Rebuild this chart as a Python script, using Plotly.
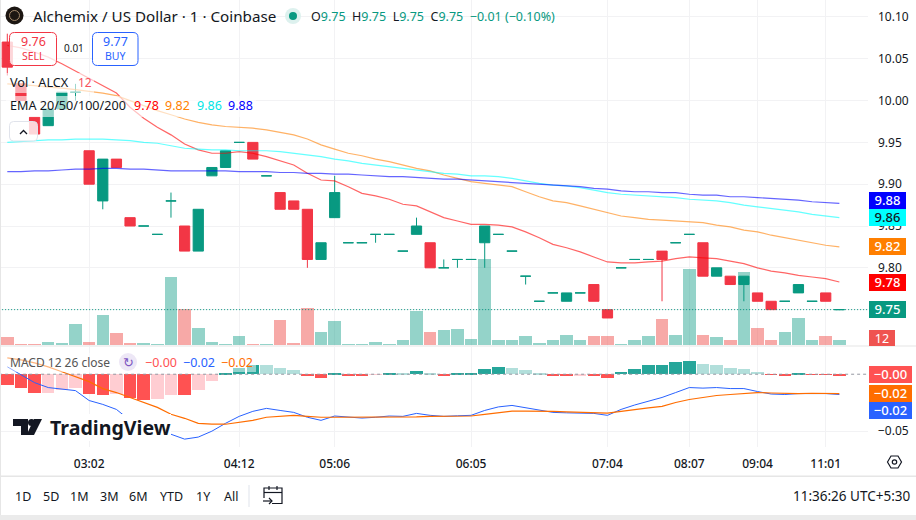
import plotly.graph_objects as go

W, H = 916, 520
PANE_RIGHT = 868
FONT = "Noto Sans"

# --- 1. Data ---
tick_idx = [6, 17, 24, 34, 44, 50, 55, 60]
tick_labels = ["03:02", "04:12", "05:06", "06:05", "07:04", "08:07", "09:04", "11:01"]

opens = [10.07, 10.02, 9.98, 9.97, 9.99, 10.01, 9.94, 9.88, 9.93, 9.86, 9.85, 9.84, 9.88, 9.85, 9.82, 9.91,
         9.92, 9.95, 9.95, 9.91, 9.89, 9.88, 9.87, 9.81, 9.86, 9.83, 9.83, 9.84, 9.84, 9.82, 9.84, 9.83,
         9.80, 9.81, 9.81, 9.83, 9.84, 9.82, 9.79, 9.76, 9.77, 9.76, 9.77, 9.78, 9.75, 9.80, 9.81, 9.81,
         9.82, 9.83, 9.84, 9.83, 9.79, 9.79, 9.78, 9.77, 9.76, 9.76, 9.77, 9.76, 9.77, 9.75]
highs = [10.08, 10.02, 9.98, 9.99, 10.01, 10.02, 9.94, 9.93, 9.93, 9.86, 9.85, 9.84, 9.89, 9.85, 9.87, 9.92,
         9.94, 9.95, 9.95, 9.91, 9.89, 9.88, 9.87, 9.83, 9.91, 9.83, 9.83, 9.84, 9.84, 9.82, 9.86, 9.83,
         9.81, 9.81, 9.81, 9.85, 9.84, 9.82, 9.79, 9.76, 9.77, 9.77, 9.77, 9.78, 9.75, 9.80, 9.81, 9.81,
         9.82, 9.83, 9.84, 9.83, 9.80, 9.79, 9.79, 9.77, 9.76, 9.76, 9.78, 9.76, 9.77, 9.75]
lows = [10.03, 10.00, 9.96, 9.97, 9.99, 10.00, 9.90, 9.87, 9.92, 9.85, 9.85, 9.84, 9.86, 9.82, 9.82, 9.91,
        9.92, 9.95, 9.93, 9.91, 9.87, 9.87, 9.80, 9.81, 9.86, 9.83, 9.83, 9.83, 9.84, 9.82, 9.84, 9.80,
        9.80, 9.80, 9.81, 9.80, 9.84, 9.82, 9.78, 9.76, 9.77, 9.76, 9.77, 9.76, 9.74, 9.80, 9.81, 9.81,
        9.76, 9.83, 9.84, 9.79, 9.79, 9.78, 9.76, 9.76, 9.75, 9.76, 9.77, 9.76, 9.76, 9.75]
closes = [10.04, 10.00, 9.96, 9.99, 10.01, 10.01, 9.90, 9.93, 9.92, 9.85, 9.85, 9.84, 9.88, 9.82, 9.87, 9.92,
          9.94, 9.95, 9.93, 9.91, 9.87, 9.87, 9.81, 9.83, 9.89, 9.83, 9.83, 9.84, 9.84, 9.82, 9.85, 9.80,
          9.80, 9.81, 9.81, 9.85, 9.84, 9.82, 9.79, 9.76, 9.77, 9.77, 9.77, 9.76, 9.74, 9.80, 9.81, 9.81,
          9.81, 9.83, 9.84, 9.79, 9.80, 9.78, 9.79, 9.76, 9.75, 9.76, 9.78, 9.76, 9.76, 9.75]

volumes = [19, 2, 2, 7, 5, 50, 7, 72, 29, 5, 5, 2, 163, 86, 41, 7, 2, 22, 2, 2, 60, 5, 89, 31,
           58, 2, 2, 7, 2, 12, 82, 31, 36, 38, 14, 206, 12, 12, 22, 5, 12, 24, 12, 22, 22, 2,
           12, 22, 62, 24, 182, 24, 19, 12, 175, 41, 12, 31, 65, 12, 22, 12]

ema20 = [10.066, 10.063, 10.058, 10.052, 10.044, 10.035, 10.027, 10.017, 10.009, 9.992, 9.979, 9.968, 9.959,
         9.948, 9.941, 9.937, 9.937, 9.939, 9.937, 9.933, 9.928, 9.923, 9.913, 9.905, 9.904, 9.897, 9.889,
         9.886, 9.882, 9.876, 9.874, 9.867, 9.860, 9.856, 9.852, 9.852, 9.851, 9.849, 9.843, 9.836, 9.828,
         9.824, 9.819, 9.813, 9.807, 9.806, 9.806, 9.807, 9.808, 9.811, 9.813, 9.812, 9.811, 9.808, 9.805,
         9.800, 9.796, 9.794, 9.791, 9.789, 9.787, 9.783]
ema50 = [10.020, 10.019, 10.018, 10.016, 10.015, 10.013, 10.011, 10.009, 10.006, 10.000, 9.994, 9.988, 9.983,
         9.978, 9.974, 9.971, 9.969, 9.968, 9.967, 9.965, 9.962, 9.959, 9.954, 9.947, 9.942, 9.937, 9.934,
         9.930, 9.927, 9.923, 9.919, 9.916, 9.911, 9.907, 9.903, 9.901, 9.899, 9.897, 9.891, 9.885, 9.880,
         9.878, 9.874, 9.870, 9.866, 9.862, 9.860, 9.858, 9.857, 9.856, 9.855, 9.854, 9.851, 9.849, 9.845,
         9.843, 9.839, 9.836, 9.833, 9.830, 9.827, 9.825]
ema100 = [9.950, 9.951, 9.952, 9.953, 9.953, 9.954, 9.954, 9.954, 9.953, 9.952, 9.950, 9.949, 9.946, 9.943,
          9.942, 9.941, 9.941, 9.940, 9.940, 9.940, 9.939, 9.937, 9.935, 9.933, 9.930, 9.928, 9.925, 9.923,
          9.921, 9.919, 9.917, 9.915, 9.913, 9.912, 9.910, 9.910, 9.909, 9.907, 9.904, 9.901, 9.899, 9.898,
          9.896, 9.893, 9.890, 9.888, 9.887, 9.886, 9.885, 9.884, 9.882, 9.881, 9.880, 9.878, 9.875, 9.873,
          9.871, 9.869, 9.867, 9.864, 9.862, 9.860]
ema200 = [9.915, 9.915, 9.916, 9.916, 9.917, 9.918, 9.918, 9.919, 9.919, 9.918, 9.918, 9.917, 9.916, 9.916,
          9.916, 9.916, 9.916, 9.915, 9.915, 9.915, 9.914, 9.914, 9.913, 9.913, 9.912, 9.912, 9.911, 9.910,
          9.909, 9.909, 9.908, 9.907, 9.906, 9.906, 9.905, 9.904, 9.903, 9.902, 9.901, 9.900, 9.899, 9.898,
          9.897, 9.895, 9.894, 9.892, 9.891, 9.891, 9.890, 9.890, 9.888, 9.887, 9.887, 9.885, 9.885, 9.884,
          9.883, 9.882, 9.881, 9.879, 9.878, 9.877]

macd_hist = [-.0093, -.0119, -.0162, -.0162, -.0136, -.0119, -.0171, -.0180, -.0171, -.0206, -.0223, -.0215,
             -.0180, -.0180, -.0136, -.0058, .0012, .0055, .0081, .0081, .0055, .0038, -.0012, -.0032, .0012,
             -.0009, -.0015, -.0006, .0012, .0006, .0029, .0012, -.0009, .0003, .0009, .0046, .0064, .0055,
             .0038, .0003, -.0012, -.0012, -.0012, -.0012, -.0032, .0020, .0046, .0078, .0081, .0110, .0119,
             .0090, .0081, .0055, .0046, .0020, -.0006, -.0009, .0003, -.0006, -.0006, -.0012]
# 1 = strong colour, 0 = faded colour
hist_strong = [1, 1, 1, 0, 0, 0, 1, 1, 0, 1, 1, 0, 0, 1, 0, 0, 1, 1, 1, 0, 0, 0, 1, 1, 1, 1, 1, 0, 1, 0, 1,
               0, 1, 1, 1, 1, 1, 0, 0, 0, 1, 1, 0, 1, 1, 1, 1, 1, 1, 1, 1, 0, 0, 0, 0, 0, 1, 1, 1, 1, 1, 1]
macd_line = [.0065, -.0004, -.0074, -.0117, -.0131, -.0144, -.0231, -.0265, -.0309, -.0405, -.0448, -.0492,
             -.0527, -.0570, -.0552, -.0500, -.0431, -.0370, -.0326, -.0300, -.0318, -.0335, -.0378, -.0405,
             -.0367, -.0374, -.0385, -.0378, -.0367, -.0370, -.0344, -.0361, -.0370, -.0365, -.0361, -.0318,
             -.0287, -.0274, -.0296, -.0318, -.0335, -.0339, -.0344, -.0344, -.0361, -.0309, -.0270, -.0239,
             -.0204, -.0161, -.0117, -.0122, -.0117, -.0126, -.0126, -.0152, -.0174, -.0178, -.0170, -.0170,
             -.0170, -.0178]
signal_line = [.0144, .0126, .0100, .0065, .0022, -.0022, -.0065, -.0126, -.0161, -.0204, -.0248, -.0291,
               -.0352, -.0387, -.0431, -.0439, -.0439, -.0422, -.0405, -.0378, -.0370, -.0361, -.0370, -.0378,
               -.0378, -.0378, -.0378, -.0378, -.0376, -.0376, -.0374, -.0370, -.0370, -.0370, -.0367, -.0352,
               -.0335, -.0324, -.0324, -.0324, -.0326, -.0331, -.0335, -.0335, -.0341, -.0326, -.0309, -.0296,
               -.0283, -.0248, -.0222, -.0204, -.0187, -.0178, -.0170, -.0161, -.0165, -.0170, -.0170, -.0167,
               -.0167, -.0170]

price_ticks = [9.75, 9.80, 9.85, 9.90, 9.95, 10.00, 10.05, 10.10]
price_tick_labels = ["", "9.80", "9.85", "9.90", "9.95", "10.00", "10.05", "10.10"]
macd_ticks = [-0.05]
macd_tick_labels = ["−0.05"]
last_price = 9.75

# right-hand value tags: label, axis position, fill, text colour
price_tags = [("9.88", 9.8805, "#0000ff", "white"), ("9.86", 9.860, "#00ffff", "#131722"),
              ("9.82", 9.825, "#ff7f00", "white"), ("9.78", 9.782, "#ff0000", "white"),
              ("9.75", 9.750, "#089981", "white")]
macd_tags = [("−0.00", -0.0006, "#ff5252"), ("−0.02", -0.0172, "#ff6d00"), ("−0.02", -0.0322, "#2962ff")]
range_buttons = [("1D", 23), ("5D", 51), ("1M", 79.5), ("3M", 109), ("6M", 138), ("YTD", 171), ("1Y", 203), ("All", 231)]

GREEN, RED = "#089981", "#f23645"
x_vals = list(range(len(opens)))


# --- 2. Pixel helpers for the chart furniture ---
def px(x):
    return x / W


def py(y):
    return 1 - y / H


def note(x, y, text, size=12, color="#131722", anchor="left", bg=None, width=None, height=None):
    return dict(xref="paper", yref="paper", x=px(x), y=py(y), text=text, showarrow=False, xanchor=anchor,
                yanchor="middle", font=dict(family=FONT, size=size, color=color), bgcolor=bg, borderpad=0,
                borderwidth=0, width=width, height=height, align="center" if width else None)


def round_rect(x0, y0, x1, y1, r, fill, line=None, width=1):
    p = (f"M {px(x0 + r)} {py(y0)} L {px(x1 - r)} {py(y0)} Q {px(x1)} {py(y0)} {px(x1)} {py(y0 + r)} "
         f"L {px(x1)} {py(y1 - r)} Q {px(x1)} {py(y1)} {px(x1 - r)} {py(y1)} L {px(x0 + r)} {py(y1)} "
         f"Q {px(x0)} {py(y1)} {px(x0)} {py(y1 - r)} L {px(x0)} {py(y0 + r)} Q {px(x0)} {py(y0)} {px(x0 + r)} {py(y0)} Z")
    return dict(type="path", xref="paper", yref="paper", path=p, fillcolor=fill, layer="above",
                line=dict(color=line or "rgba(0,0,0,0)", width=width if line else 0))


def rect(x0, y0, x1, y1, fill):
    return dict(type="rect", xref="paper", yref="paper", x0=px(x0), x1=px(x1), y0=py(y0), y1=py(y1),
                fillcolor=fill, line=dict(width=0), layer="above")


def circle(cx, cy, r, fill, line=None, width=1):
    return dict(type="circle", xref="paper", yref="paper", x0=px(cx - r), x1=px(cx + r), y0=py(cy - r), y1=py(cy + r),
                fillcolor=fill, line=dict(color=line or "rgba(0,0,0,0)", width=width if line else 0), layer="above")


def poly(points, color=None, fill=None, width=1.2, closed=False):
    p = "M " + " L ".join(f"{px(a)} {py(b)}" for a, b in points) + (" Z" if closed else "")
    return dict(type="path", xref="paper", yref="paper", path=p, fillcolor=fill or "rgba(0,0,0,0)", layer="above",
                line=dict(color=color or "rgba(0,0,0,0)", width=width if color else 0))


# --- 3. Traces ---
fig = go.Figure()

fig.add_trace(go.Bar(x=x_vals, y=volumes, width=0.92, xaxis="x", yaxis="y", hoverinfo="skip",
                     marker=dict(line=dict(width=0),
                                 color=["rgba(8,153,129,0.43)" if c >= o else "rgba(239,83,80,0.5)"
                                        for o, c in zip(opens, closes)])))

for is_green, color in [(True, GREEN), (False, RED)]:
    keep = [i for i in x_vals if (closes[i] >= opens[i]) == is_green]
    side = dict(line=dict(color=color, width=1), fillcolor=color)
    fig.add_trace(go.Candlestick(x=keep, open=[opens[i] for i in keep], high=[highs[i] for i in keep],
                                 low=[lows[i] for i in keep], close=[closes[i] for i in keep],
                                 increasing=side, decreasing=side, whiskerwidth=0,
                                 xaxis="x", yaxis="y2", hoverinfo="skip"))

for series, color in [(ema20, "#ff0000"), (ema50, "#ff7f00"), (ema100, "#00ffff"), (ema200, "#0000ff")]:
    fig.add_trace(go.Scatter(x=x_vals, y=series, mode="lines", xaxis="x", yaxis="y2", opacity=0.6,
                             line=dict(color=color, width=1.2), hoverinfo="skip"))

hist_colors = []
for v, strong in zip(macd_hist, hist_strong):
    if v >= 0:
        hist_colors.append("#26a69a" if strong else "#b2dfdb")
    else:
        hist_colors.append("#ff5252" if strong else "#ffcdd2")
fig.add_trace(go.Bar(x=x_vals, y=macd_hist, width=0.92, xaxis="x2", yaxis="y3", hoverinfo="skip",
                     marker=dict(color=hist_colors, line=dict(width=0))))
fig.add_trace(go.Scatter(x=x_vals, y=macd_line, mode="lines", xaxis="x2", yaxis="y3",
                         line=dict(color="#2962ff", width=1), hoverinfo="skip"))
fig.add_trace(go.Scatter(x=x_vals, y=signal_line, mode="lines", xaxis="x2", yaxis="y3",
                         line=dict(color="#ff6d00", width=1.2), hoverinfo="skip"))

# --- 4. Shapes and text ---
shapes = [
    dict(type="line", xref="x", yref="y2", x0=-0.6, x1=63.2, y0=last_price, y1=last_price, layer="above",
         line=dict(color=GREEN, width=1, dash="1px,2px")),
    dict(type="line", xref="x2", yref="y3", x0=-0.6, x1=63.2, y0=0, y1=0, layer="above",
         line=dict(color="#9598a1", width=1, dash="3px,3px")),
    # pane dividers and toolbar
    rect(0, 345.5, W, 346.5, "#e6e6e6"),
    rect(0, 475.5, W, 477, "#e6e6e6"),
    rect(0, 515, W, 520, "#ebebeb"),
    rect(0, 0, 1, 515, "#e6e6e6"),
    rect(248.5, 485, 249.5, 507, "#e0e3eb"),
    # legend rows sit on a see-through white strip
    rect(6, 73, 94, 93, "rgba(255,255,255,0.6)"),
    rect(6, 96, 256, 117, "rgba(255,255,255,0.6)"),
    rect(6, 353, 256, 372, "rgba(255,255,255,0.5)"),
    # buy / sell buttons
    round_rect(9.5, 32.5, 56.5, 65.5, 5, "rgba(255,255,255,0.8)", RED),
    round_rect(92.5, 32.5, 138, 65.5, 5, "rgba(255,255,255,0.8)", "#2962ff"),
    round_rect(9.5, 121.5, 37.5, 141, 4, "rgba(255,255,255,0.8)", "#e0e3eb"),
    poly([(20, 134), (23.5, 130.5), (27, 134)], color="#131722", width=1.3),
    # symbol icon and status dot
    circle(14.5, 15.5, 9, "#1c1612"),
    circle(14.5, 15.5, 5, "rgba(0,0,0,0)", "#a58a6d", 1),
    circle(293, 16, 8, "#ddf1ee"),
    circle(293, 16, 4, GREEN),
    # refresh badge in MACD legend
    circle(128, 362, 9, "#ede7f6"),
    # logo mark
    poly([(13, 419), (28, 419), (28, 435), (21, 435), (21, 426), (13, 426)], fill="#131722", closed=True),
    poly([(34, 435), (26.5, 435), (34, 419), (42, 419)], fill="#131722", closed=True),
    circle(31.5, 422.5, 3.5, "#131722"),
    # calendar icon
    poly([(264, 498), (264, 488), (282, 488), (282, 503.5), (272, 503.5)], color="#131722"),
    poly([(264, 492.5), (282, 492.5)], color="#131722"),
    poly([(269, 486), (269, 490)], color="#131722"),
    poly([(277, 486), (277, 490)], color="#131722"),
    poly([(263, 501), (272, 501)], color="#131722"),
    poly([(269, 498), (272, 501), (269, 504)], color="#131722"),
    # settings hexagon
    poly([(887.5, 462), (891, 456), (898, 456), (901.5, 462), (898, 468), (891, 468)], color="#131722", closed=True),
    circle(894.5, 462, 2.2, "rgba(0,0,0,0)", "#131722", 1.2),
]

notes = [
    note(33, 16, "Alchemix / US Dollar · 1 · Coinbase", 15.2),
    note(311, 16, f"O<span style='color:{GREEN}'>9.75</span>  H<span style='color:{GREEN}'>9.75</span>  "
                  f"L<span style='color:{GREEN}'>9.75</span>  C<span style='color:{GREEN}'>9.75</span>  "
                  f"<span style='color:{GREEN}'>−0.01 (−0.10%)</span>", 12.5),
    note(33, 41.5, "9.76", 12.5, RED, "center"),
    note(33, 56, "SELL", 10.5, RED, "center"),
    note(74, 48, "0.01", 10, "#131722", "center"),
    note(115.5, 41.5, "9.77", 12.5, "#2962ff", "center"),
    note(115.5, 56, "BUY", 10.5, "#2962ff", "center"),
    note(10, 82, "Vol · ALCX", 12.7),
    note(78, 82, "12", 12, "#f7525f"),
    note(10, 106, "EMA 20/50/100/200", 12.6),
    note(134, 106, "9.78", 12.5, "#ff0000"),
    note(165, 106, "9.82", 12.5, "#ff7f00"),
    note(197, 106, "9.86", 12.5, "#00e5e5"),
    note(228, 106, "9.88", 12.5, "#0000ff"),
    note(10, 362, "MACD 12 26 close", 12, "#555555"),
    note(128, 362, "↻", 13, "#7e57c2", "center"),
    note(145, 362, "−0.00", 12.5, "#ff5252"),
    note(183, 362, "−0.02", 12.5, "#2962ff"),
    note(221, 362, "−0.02", 12.5, "#ff6d00"),
    note(50, 427, "<b>TradingView</b>", 19.6, "#131722", bg="white"),
    note(910, 496, "11:36:26 UTC+5:30", 13.5, "#131722", "right"),
    note(869, 337.5, "12", 12.5, "white", "left", "#ef5350", 26, 16),
]
for label, cx in range_buttons:
    notes.append(note(cx, 496, label, 12.5, "#131722", "center"))
for label, value, fill, text_color in price_tags:
    notes.append(dict(xref="paper", yref="y2", x=px(869), y=value, text=label, showarrow=False, xanchor="left",
                      yanchor="middle", width=37, height=16.5, bgcolor=fill, borderpad=0, borderwidth=0, align="center",
                      font=dict(family=FONT, size=13, color=text_color, weight=500)))
for label, value, fill in macd_tags:
    notes.append(dict(xref="paper", yref="y3", x=px(869), y=value, text=label, showarrow=False, xanchor="left",
                      yanchor="middle", width=43, height=16.5, bgcolor=fill, borderpad=0, borderwidth=0, align="center",
                      font=dict(family=FONT, size=13, color="white", weight=500)))

# --- 5. Layout ---
GRID = "#f2f2f4"
x_common = dict(range=[-0.535, 63.1], tickvals=tick_idx, showgrid=True, gridcolor=GRID, gridwidth=1, zeroline=False,
                showline=False, ticks="", rangeslider=dict(visible=False), domain=[0, PANE_RIGHT / W])

fig.update_layout(
    width=W, height=H, margin=dict(l=0, r=0, t=0, b=0), autosize=False,
    paper_bgcolor="white", plot_bgcolor="white", showlegend=False, boxgap=0.25, boxgroupgap=0, bargap=0,
    font=dict(family=FONT, size=12, color="#131722"),
    xaxis=dict(**x_common, anchor="y", showticklabels=False),
    xaxis2=dict(**x_common, anchor="y3", showticklabels=True, ticktext=tick_labels, ticklabelstandoff=8,
                tickfont=dict(family=FONT, size=12, color="#131722", weight=500)),
    yaxis=dict(domain=[py(346), 1], range=[-2.4, 828], visible=False, fixedrange=True),
    yaxis2=dict(domain=[py(346), 1], overlaying="y", anchor="x", side="right", range=[9.7065, 10.1203],
                tickvals=price_ticks, ticktext=price_tick_labels, gridcolor=GRID, zeroline=False,
                ticks="", ticklabelstandoff=9, tickfont=dict(family=FONT, size=12, color="#131722")),
    yaxis3=dict(domain=[py(447), py(347)], anchor="x2", side="right", range=[-0.0639, 0.0239],
                tickvals=macd_ticks, ticktext=macd_tick_labels, gridcolor=GRID, zeroline=False,
                ticks="", ticklabelstandoff=9, tickfont=dict(family=FONT, size=12, color="#131722")),
    shapes=shapes, annotations=notes,
)

# the page's default body margin would push the chart 8px off the window
fig.write_html("out.html", config=dict(displayModeBar=False),
               post_script="document.body.style.margin='0';")
